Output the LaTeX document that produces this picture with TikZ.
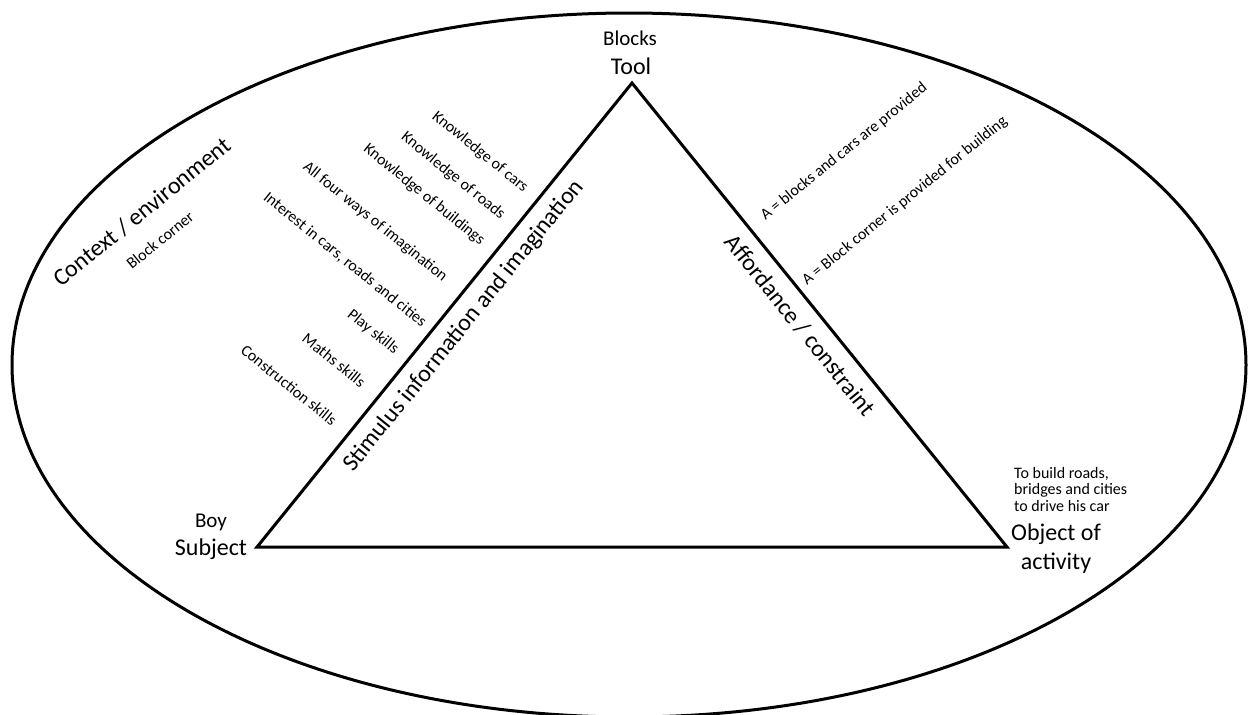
\documentclass[tikz,border=0pt]{standalone}
\usepackage{fontspec}
\setmainfont{Carlito}
\begin{document}
\begin{tikzpicture}[x=1pt,y=-1pt,
  notetext/.style={font=\fontsize{16}{19}\selectfont, inner sep=0pt},
  cornertext/.style={font=\fontsize{21}{25}\selectfont, inner sep=0pt},
  roletext/.style={font=\fontsize{24}{29}\selectfont, inner sep=0pt},
  outline/.style={line width=3pt, line join=miter}]
\useasboundingbox (0,0) rectangle (1248,715);

% context ellipse, cut off at the lower edge
\begin{scope}
  \clip (0,0) rectangle (1248,715);
  \draw[line width=3pt] (629,365) ellipse [x radius=617, y radius=352];
\end{scope}

% activity triangle
\coordinate (tool) at (632,83);
\coordinate (subj) at (257,547);
\coordinate (obj) at (1007,547);
\draw[outline] (tool) -- (subj) -- (obj) -- cycle;

% corner labels
\node[cornertext] (blocks) at (630,38) {Blocks};
\node[roletext] (toollbl) at (631,66) {Tool};
\node[cornertext] (boy) at (211,522) {Boy};
\node[roletext] (subjlbl) at (211,549) {Subject};
\node[roletext, align=center] (objlbl) at (1056,549) {Object of\\activity};
\node[notetext, align=left, anchor=north west,
      font=\fontsize{16}{16.5}\selectfont] (goal) at (1014,467)
  {To build roads,\\bridges and cities\\to drive his car};

% side labels
\node[roletext, rotate=51.1] (stim) at (464,326) {Stimulus information and imagination};
\node[roletext, rotate=-51.1] (afford) at (800,325) {Affordance / constraint};
\node[roletext, rotate=39] (context) at (142,212) {Context / environment};
\node[notetext, rotate=39] (corner) at (160,240) {Block corner};

% subject side notes
\node[notetext, rotate=-39] (k1) at (480,152) {Knowledge of cars};
\node[notetext, rotate=-39] (k2) at (453,176) {Knowledge of roads};
\node[notetext, rotate=-39] (k3) at (424,195) {Knowledge of buildings};
\node[notetext, rotate=-39] (k4) at (375,222) {All four ways of imagination};
\node[notetext, rotate=-39] (k5) at (345,260) {Interest in cars, roads and cities};
\node[notetext, rotate=-39] (k6) at (373,332) {Play skills};
\node[notetext, rotate=-39] (k7) at (334,360) {Maths skills};
\node[notetext, rotate=-39] (k8) at (289,385) {Construction skills};

% affordance notes
\node[notetext, rotate=39] (a1) at (844,152) {A = blocks and cars are provided};
\node[notetext, rotate=39] (a2) at (905,201) {A = Block corner is provided for building};
\end{tikzpicture}
\end{document}
